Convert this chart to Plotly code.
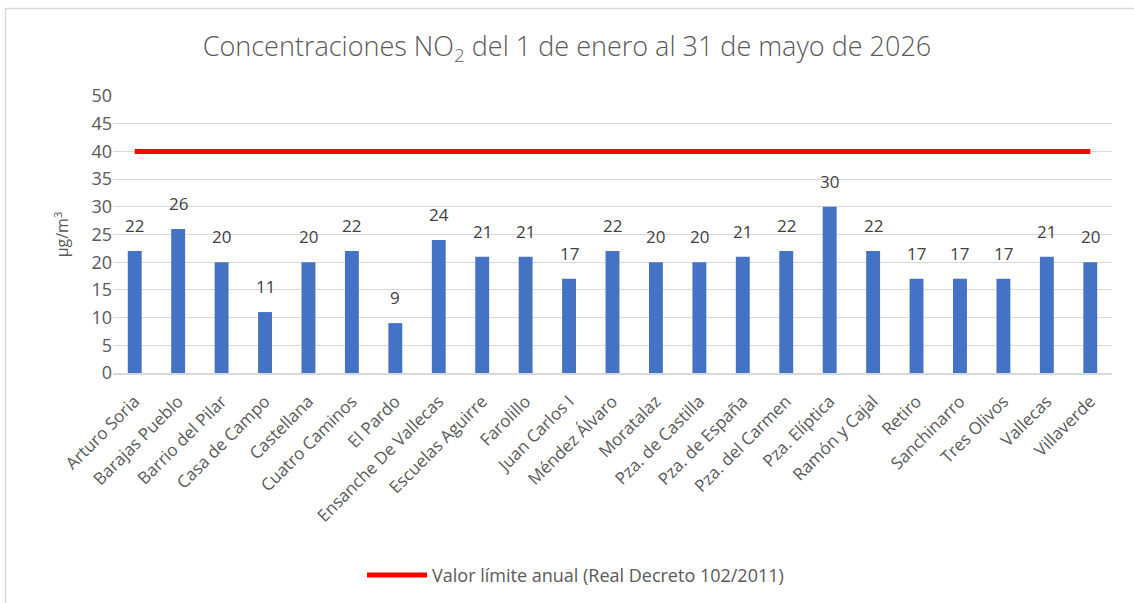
import plotly.graph_objects as go

stations = ["Arturo Soria", "Barajas Pueblo", "Barrio del Pilar", "Casa de Campo", "Castellana",
            "Cuatro Caminos", "El Pardo", "Ensanche De Vallecas", "Escuelas Aguirre", "Farolillo",
            "Juan Carlos I", "Méndez Álvaro", "Moratalaz", "Pza. de Castilla", "Pza. de España",
            "Pza. del Carmen", "Pza. Elíptica", "Ramón y Cajal", "Retiro", "Sanchinarro",
            "Tres Olivos", "Vallecas", "Villaverde"]
no2_values = [22, 26, 20, 11, 20, 22, 9, 24, 21, 21, 17, 22, 20, 20, 21, 22, 30, 22, 17, 17, 17, 21, 20]
limit_value = 40
limit_label = "Valor límite anual (Real Decreto 102/2011)"
y_ticks = [0, 5, 10, 15, 20, 25, 30, 35, 40, 45, 50]

FONT = "Open Sans"
TXT = "#595959"

fig = go.Figure()
fig.add_trace(go.Bar(
    x=stations, y=no2_values, width=0.32,
    marker=dict(color="#4472C4", line=dict(width=0)),
    showlegend=False, hoverinfo="x+y",
))
fig.add_trace(go.Scatter(
    x=stations, y=[limit_value] * len(stations), mode="lines",
    line=dict(color="#FF0000", width=5),
    name=limit_label,
))

for s, v in zip(stations, no2_values):
    fig.add_annotation(x=s, y=v, text=str(v), showarrow=False, yanchor="bottom",
                       yshift=12, font=dict(family=FONT, size=17, color="#404040"))

fig.add_shape(type="rect", xref="paper", yref="paper",
              x0=-0.1076, x1=1.2, y0=-1.2, y1=1.316,
              line=dict(color="#d9d9d9", width=1.5), fillcolor="rgba(0,0,0,0)", layer="below")

n = len(stations)
fig.update_layout(
    width=1134, height=603, autosize=False,
    margin=dict(l=113, r=22, t=96, b=230, autoexpand=False),
    paper_bgcolor="white", plot_bgcolor="white",
    font=dict(family=FONT, color=TXT, size=16),
    title=dict(text="Concentraciones NO<sub>2</sub> del 1 de enero al 31 de mayo de 2026",
               x=0.5, xanchor="center", y=0.922, yanchor="middle", yref="container",
               font=dict(family=FONT, size=27, color=TXT, weight=300)),
    xaxis=dict(showline=True, linecolor="#d9d9d9", linewidth=1.5,
               tickangle=-45, ticks="outside", ticklen=10, tickcolor="rgba(0,0,0,0)",
               showgrid=False, range=[-0.5, n - 0.5], automargin=False,
               tickfont=dict(family=FONT, size=17, color=TXT)),
    yaxis=dict(range=[0, 50], tickvals=y_ticks, gridcolor="#d9d9d9", gridwidth=1,
               zeroline=False, ticks="", ticklen=0, automargin=False,
               tickfont=dict(family=FONT, size=18, color=TXT),
               title=dict(text="µg/m<sup>3</sup>", standoff=18,
                          font=dict(family=FONT, size=16, color=TXT))),
    legend=dict(orientation="h", x=0.463, xanchor="center", y=-0.73, yanchor="middle",
                itemwidth=60, font=dict(family=FONT, size=18, color=TXT)),
    bargap=0.68,
)

fig.write_html(
    "out.html",
    config={"responsive": False, "displayModeBar": False},
    post_script="document.body.style.margin='0';document.body.style.overflow='hidden';",
)
